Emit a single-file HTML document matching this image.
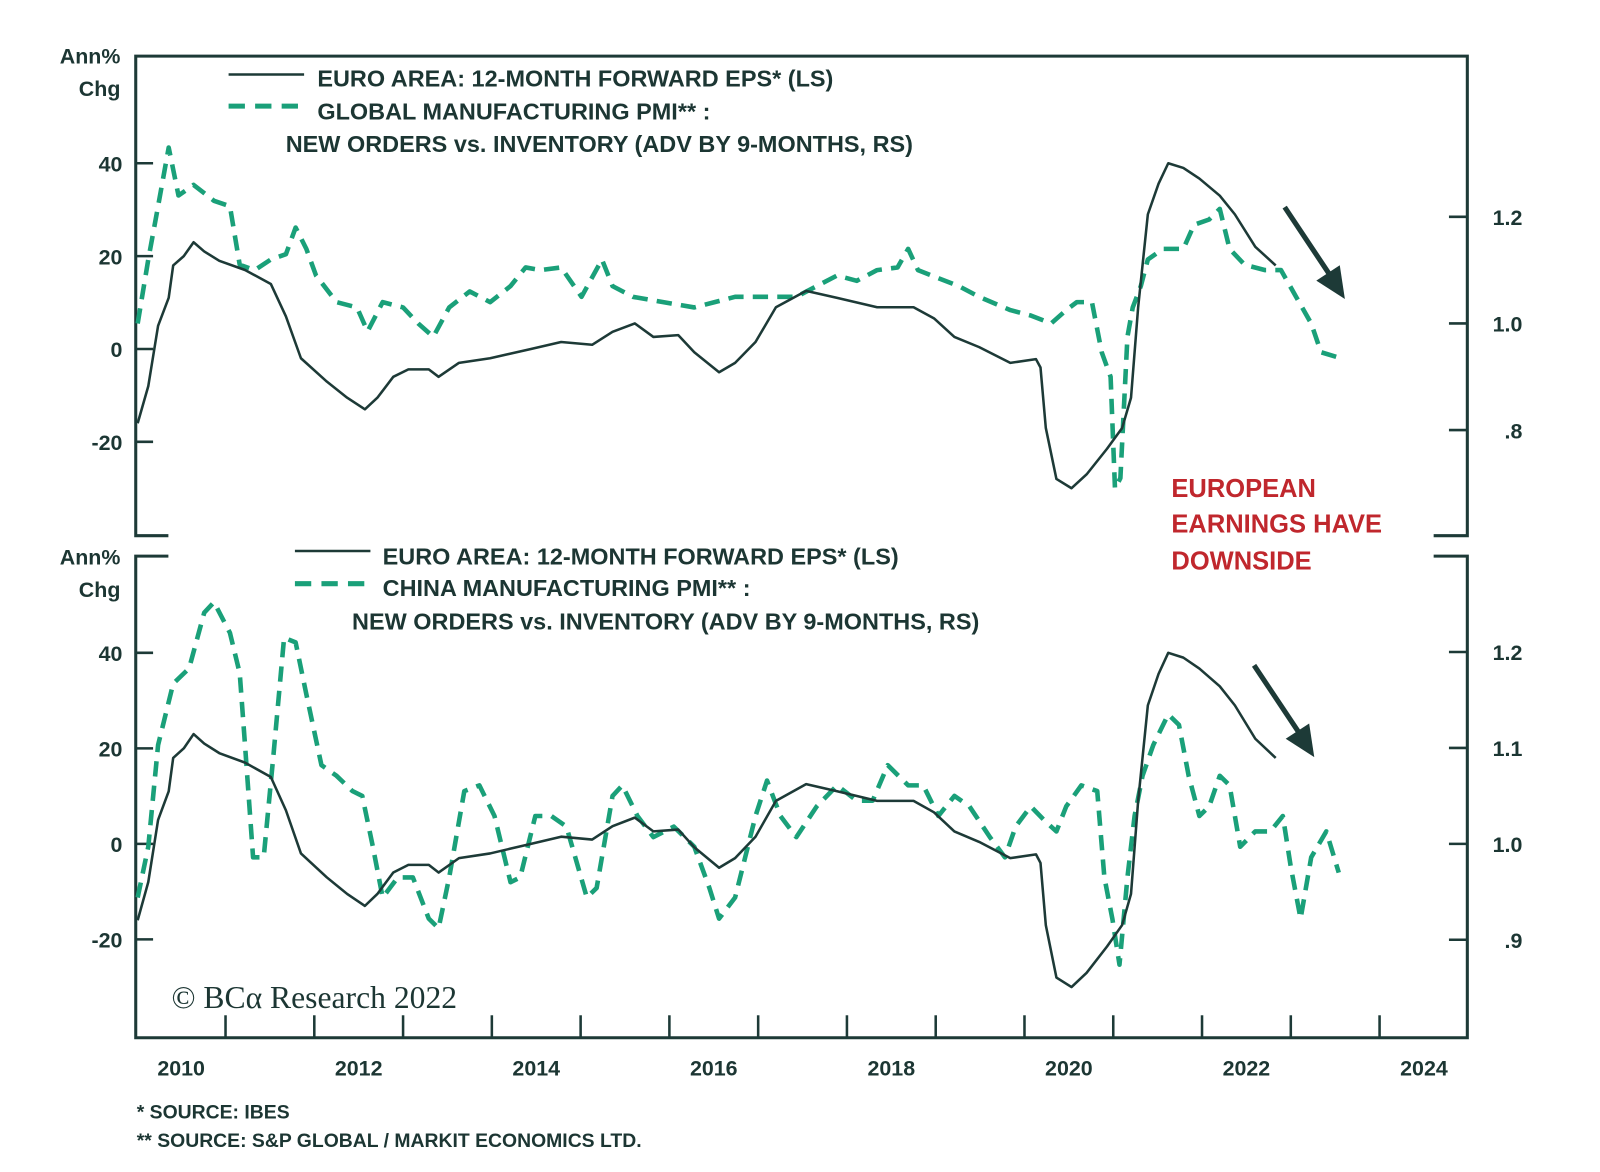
<!DOCTYPE html>
<html><head><meta charset="utf-8"><style>
body{margin:0;background:#fff;width:1600px;height:1172px;overflow:hidden}
svg{display:block}
text{font-family:"Liberation Sans",sans-serif;fill:#1c3633}
</style></head><body>
<svg id="chart" width="1600" height="1172" viewBox="0 0 1568 1148.6" xmlns="http://www.w3.org/2000/svg">
<g id="frame" stroke="#1d3a37" stroke-width="3" fill="none">
<path d="M165,525 H133 V55 H1438 V525 H1405"/>
<path d="M165,545 H133 V1017 H1438 V545 H1405"/>
</g>
<g id="ticks" stroke="#1d3a37" stroke-width="2.5"></g>
<g id="labels" font-weight="bold" font-size="21"></g>
<g id="series" fill="none"></g>
<g font-weight="bold" font-size="23">
<line x1="224" y1="73" x2="298" y2="73" stroke="#1d3a37" stroke-width="2.5"/>
<line x1="224" y1="104" x2="298" y2="104" stroke="#1aa079" stroke-width="5" stroke-dasharray="16,10"/>
<text x="311" y="85">EURO AREA: 12-MONTH FORWARD EPS* (LS)</text>
<text x="311" y="117">GLOBAL MANUFACTURING PMI** :</text>
<text x="280" y="149">NEW ORDERS vs. INVENTORY (ADV BY 9-MONTHS, RS)</text>
</g>
<g font-weight="bold" font-size="23">
<line x1="289" y1="540" x2="363" y2="540" stroke="#1d3a37" stroke-width="2.5"/>
<line x1="289" y1="572" x2="363" y2="572" stroke="#1aa079" stroke-width="5" stroke-dasharray="16,10"/>
<text x="375" y="553">EURO AREA: 12-MONTH FORWARD EPS* (LS)</text>
<text x="375" y="584">CHINA MANUFACTURING PMI** :</text>
<text x="345" y="617">NEW ORDERS vs. INVENTORY (ADV BY 9-MONTHS, RS)</text>
</g>
<g font-weight="bold" font-size="25">
<text x="1148" y="487" style="fill:#c0272d">EUROPEAN</text>
<text x="1148" y="522" style="fill:#c0272d">EARNINGS HAVE</text>
<text x="1148" y="558" style="fill:#c0272d">DOWNSIDE</text>
</g>
<g stroke="#1d3a37" stroke-width="5" fill="#1d3a37">
<line x1="1259" y1="203" x2="1305" y2="272"/>
<polygon points="1318,293 1290,275 1313,260" stroke="none"/>
<line x1="1229" y1="652" x2="1275" y2="721"/>
<polygon points="1288,742 1260,724 1283,709" stroke="none"/>
</g>
<text x="168" y="988" font-size="31" style="font-family:'Liberation Serif',serif">© BCα Research 2022</text>
<g font-weight="bold" font-size="19">
<text x="134" y="1096">*   SOURCE: IBES</text>
<text x="134" y="1124">** SOURCE: S&amp;P GLOBAL / MARKIT ECONOMICS LTD.</text>
</g>
</svg>
<script>
const epsYears=[2010.01,2010.13,2010.24,2010.36,2010.41,2010.53,2010.64,2010.76,2010.93,2011.22,2011.51,2011.68,2011.85,2012.14,2012.37,2012.57,2012.71,2012.89,2013.06,2013.29,2013.40,2013.63,2013.98,2014.44,2014.78,2015.13,2015.36,2015.61,2015.82,2016.10,2016.28,2016.56,2016.74,2016.97,2017.20,2017.54,2017.89,2018.34,2018.75,2018.98,2019.21,2019.49,2019.84,2020.13,2020.18,2020.24,2020.36,2020.53,2020.70,2020.93,2021.10,2021.20,2021.28,2021.39,2021.51,2021.62,2021.79,2021.97,2022.20,2022.37,2022.60,2022.83];
const epsValues=[-16,-8,5,11,18,20,23,21,19,17,14,7,-2,-7,-10.5,-13,-10.5,-6,-4.4,-4.4,-6,-3,-2,0,1.5,0.9,3.7,5.5,2.6,3,-0.7,-5,-3,1.5,9,12.5,11,9,9,6.6,2.6,0.4,-3,-2.2,-4,-17,-28,-30,-27,-21.5,-17,-10.5,9,29,35.6,40,39,36.7,33,29,22,18];
const globalYears=[2010.01,2010.13,2010.24,2010.36,2010.47,2010.64,2010.87,2011.05,2011.16,2011.33,2011.51,2011.68,2011.79,2011.91,2012.02,2012.25,2012.48,2012.60,2012.77,2013.00,2013.17,2013.34,2013.52,2013.75,2013.98,2014.21,2014.38,2014.55,2014.78,2015.01,2015.24,2015.36,2015.59,2015.93,2016.28,2016.51,2016.74,2017.08,2017.43,2017.66,2017.89,2018.11,2018.34,2018.57,2018.69,2018.80,2019.03,2019.26,2019.49,2019.84,2020.07,2020.30,2020.47,2020.59,2020.76,2020.87,2020.97,2021.02,2021.08,2021.16,2021.22,2021.31,2021.39,2021.56,2021.79,2021.91,2022.08,2022.20,2022.31,2022.48,2022.71,2022.89,2023.06,2023.23,2023.34,2023.52];
const globalValues=[1.00,1.12,1.22,1.33,1.24,1.26,1.23,1.22,1.11,1.10,1.12,1.13,1.18,1.14,1.09,1.04,1.03,0.985,1.04,1.03,1.00,0.975,1.03,1.06,1.04,1.07,1.105,1.10,1.105,1.05,1.12,1.07,1.05,1.04,1.03,1.04,1.05,1.05,1.05,1.07,1.09,1.08,1.10,1.105,1.14,1.10,1.085,1.07,1.05,1.025,1.015,1.00,1.025,1.04,1.04,0.946,0.90,0.69,0.71,0.975,1.03,1.07,1.12,1.14,1.14,1.185,1.195,1.215,1.14,1.11,1.10,1.10,1.05,1.00,0.946,0.937];
const chinaYears=[2010.01,2010.13,2010.24,2010.41,2010.59,2010.76,2010.87,2011.05,2011.16,2011.22,2011.31,2011.43,2011.54,2011.66,2011.79,2011.91,2012.08,2012.25,2012.43,2012.54,2012.66,2012.77,2012.94,2013.11,2013.29,2013.40,2013.52,2013.69,2013.86,2014.03,2014.21,2014.32,2014.49,2014.67,2014.84,2015.07,2015.18,2015.36,2015.47,2015.64,2015.82,2016.05,2016.28,2016.45,2016.56,2016.74,2016.97,2017.10,2017.25,2017.43,2017.66,2017.89,2018.11,2018.29,2018.46,2018.69,2018.86,2019.03,2019.21,2019.38,2019.61,2019.78,2019.90,2020.07,2020.24,2020.36,2020.47,2020.64,2020.82,2020.90,2020.99,2021.07,2021.16,2021.24,2021.33,2021.45,2021.62,2021.74,2021.85,2021.97,2022.08,2022.20,2022.31,2022.43,2022.60,2022.77,2022.91,2023.00,2023.11,2023.23,2023.40,2023.54];
const chinaValues=[0.944,0.997,1.103,1.167,1.183,1.241,1.252,1.220,1.178,1.103,0.986,0.986,1.093,1.215,1.210,1.156,1.082,1.071,1.055,1.050,0.997,0.944,0.965,0.965,0.922,0.912,0.965,1.055,1.061,1.029,0.960,0.965,1.029,1.029,1.018,0.944,0.954,1.050,1.061,1.029,1.007,1.018,0.997,0.954,0.922,0.944,1.029,1.066,1.029,1.007,1.039,1.061,1.045,1.045,1.082,1.061,1.061,1.029,1.050,1.039,1.007,0.986,1.018,1.039,1.023,1.013,1.039,1.061,1.055,0.965,0.922,0.874,0.965,1.029,1.071,1.103,1.135,1.124,1.071,1.029,1.039,1.071,1.061,0.997,1.013,1.013,1.029,0.976,0.922,0.986,1.013,0.970];
const xYearLabels=["2010","2012","2014","2016","2018","2020","2022","2024"];
const leftTicks=[40,20,0,-20];
const topRightTicks=[1.2,1.0,0.8];
const topRightLabels=["1.2","1.0",".8"];
const botRightTicks=[1.2,1.1,1.0,0.9];
const botRightLabels=["1.2","1.1","1.0",".9"];

const NS="http://www.w3.org/2000/svg";
const x=t=>134+(t-2010)*87;
const yTopL=v=>342-v*4.55;
const yTopR=v=>317-(v-1)*522.5;
const yBotL=v=>827-v*4.68;
const yBotR=v=>827-(v-1)*940;
function mk(tag,attrs,parent){const e=document.createElementNS(NS,tag);for(const k in attrs)e.setAttribute(k,attrs[k]);parent.appendChild(e);return e;}
const ticks=document.getElementById('ticks'),labels=document.getElementById('labels'),series=document.getElementById('series');
leftTicks.forEach(v=>{
 [yTopL(v),yBotL(v)].forEach((yy,i)=>{
  const l=mk('line',{x1:133,y1:yy,x2:150,y2:yy},ticks);
  
  
  const t=mk('text',{x:120,y:yy+8,'text-anchor':'end'},labels);t.textContent=String(v);
  
  
 });
});
topRightTicks.forEach((v,i)=>{
 const yy=yTopR(v);
 const l=mk('line',{x1:1420,y1:yy,x2:1438,y2:yy},ticks);
 
 
 const t=mk('text',{x:1492,y:yy+8,'text-anchor':'end'},labels);t.textContent=topRightLabels[i];
 
 
});
botRightTicks.forEach((v,i)=>{
 const yy=yBotR(v);
 const l=mk('line',{x1:1420,y1:yy,x2:1438,y2:yy},ticks);
 
 
 const t=mk('text',{x:1492,y:yy+8,'text-anchor':'end'},labels);t.textContent=botRightLabels[i];
 
 
});
for(let yr=2011;yr<=2024;yr++){
 const l=mk('line',{x1:x(yr),y1:995,x2:x(yr),y2:1017},ticks);
 
 
}
xYearLabels.forEach(s=>{
 const t=mk('text',{x:x(+s+0.5),y:1054,'text-anchor':'middle'},labels);t.textContent=s;
 
 
});
[["Ann%",62],["Chg",94]].forEach(a=>{
 const t=mk('text',{x:118,y:a[1],'text-anchor':'end'},labels);t.textContent=a[0];
 
 
 const t2=mk('text',{x:118,y:a[1]+491,'text-anchor':'end'},labels);t2.textContent=a[0];
 
 
});
function line(ys,vs,fy,style,name){
 const d=ys.map((t,i)=>(i?'L':'M')+x(t).toFixed(1)+','+fy(vs[i]).toFixed(1)).join(' ');
 const p=mk('path',Object.assign({d:d},style),series);
 
 
}
const solid={stroke:'#1d3a37','stroke-width':2.5,'stroke-linejoin':'round'};
const dash={stroke:'#1aa079','stroke-width':4.5,'stroke-dasharray':'15,9','stroke-linejoin':'round'};
line(globalYears,globalValues,yTopR,dash,'global-pmi-line');
line(epsYears,epsValues,yTopL,solid,'eps-line-top');
line(chinaYears,chinaValues,yBotR,dash,'china-pmi-line');
line(epsYears,epsValues,yBotL,solid,'eps-line-bottom');
</script>
</body></html>
